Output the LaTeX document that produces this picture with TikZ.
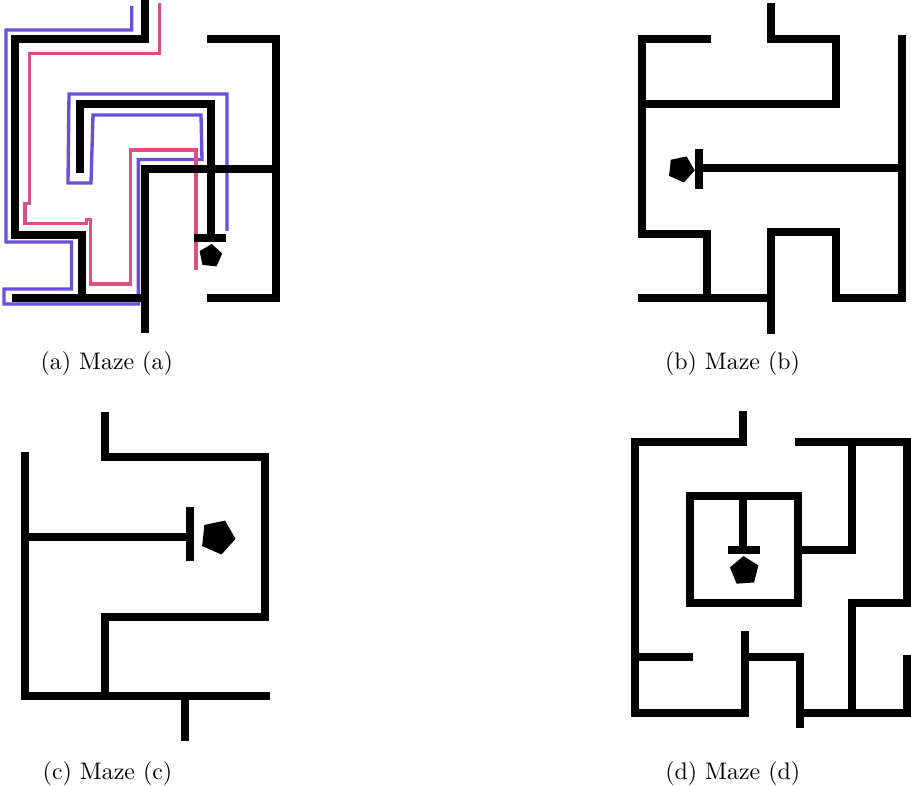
\documentclass[tikz,border=0pt]{standalone}
\usepackage{tikz}
\usetikzlibrary{shapes.geometric}
\definecolor{rblue}{rgb}{0.42, 0.31, 0.86}
\definecolor{rpink}{rgb}{0.87, 0.31, 0.50}
\tikzset{wall/.style = {line width=3.3pt, line join=miter},
         route/.style = {line width=1.4pt, line join=miter},
         goal/.style = {regular polygon, regular polygon sides=5, fill=black,
                        inner sep=0pt}}
\begin{document}
\begin{tikzpicture}[x=0.418pt, y=-0.418pt]
  \useasboundingbox (0, 0) rectangle (911, 785);
  % maze (a) with both routes
  \draw [route, rblue] (131.7, 6) -- (131.7, 30) -- (6, 30) -- (6, 242) -- (71.5, 242)
    -- (71.5, 289) -- (4, 289) -- (4, 304) -- (138.4, 304) -- (138.4, 159.5)
    -- (202, 159.5) -- (201, 115) -- (93, 115) -- (91, 183) -- (68, 183) -- (69, 94)
    -- (227, 94) -- (227, 231);
  \draw [route, rpink] (159.3, 3) -- (159.3, 53.3) -- (29.3, 53.3) -- (29.3, 203.3)
    -- (25, 203.3) -- (25, 223.3) -- (86.5, 223.3) -- (86.5, 219.5) -- (90.5, 219.5)
    -- (90.5, 284) -- (130.7, 284) -- (130.7, 150) -- (196, 150) -- (196, 270);
  \draw [wall] (145, 0) -- (145, 39) -- (15, 39) -- (15, 235) -- (82, 235) -- (82, 298);
  \draw [wall] (12, 298) -- (145, 298);
  \draw [wall] (145, 333) -- (145, 169) -- (276, 169);
  \draw [wall] (207, 39) -- (276, 39) -- (276, 298) -- (207, 298);
  \draw [wall] (80, 173) -- (80, 104) -- (211, 104) -- (211, 238);
  \draw [wall] (194, 238) -- (226, 238);
  \node [goal, minimum size=10pt, shape border rotate=-6] (goalA) at (210.5, 256) {};
  \node (capA) at (106.7, 363.7) {(a) Maze (a)};

  % maze (b)
  \draw [wall] (771, 3) -- (771, 39) -- (836, 39) -- (836, 104) -- (642, 104);
  \draw [wall] (711, 39) -- (642, 39) -- (642, 234) -- (707, 234) -- (707, 298);
  \draw [wall] (638, 298) -- (771, 298);
  \draw [wall] (771, 334) -- (771, 232) -- (836, 232) -- (836, 298) -- (902, 298) -- (902, 35);
  \draw [wall] (700, 168.3) -- (902, 168.3);
  \draw [wall] (698.7, 149) -- (698.7, 189);
  \node [goal, minimum size=11.5pt, shape border rotate=-96] (goalB) at (681, 169) {};
  \node (capB) at (732.5, 363.7) {(b) Maze (b)};

  % maze (c)
  \draw [wall] (25, 452) -- (25, 696) -- (270, 696);
  \draw [wall] (25, 537) -- (190, 537);
  \draw [wall] (190, 507) -- (190, 561);
  \draw [wall] (105, 412) -- (105, 457) -- (265, 457) -- (265, 617) -- (105, 617) -- (105, 696);
  \draw [wall] (185, 696) -- (185, 741);
  \node [goal, minimum size=15pt, shape border rotate=-96] (goalC) at (217.7, 537) {};
  \node (capC) at (107.5, 773.5) {(c) Maze (c)};

  % maze (d)
  \draw [wall] (743.3, 411) -- (743.3, 442) -- (635, 442) -- (635, 713) -- (745, 713) -- (745, 631);
  \draw [wall] (635, 657) -- (693, 657);
  \draw [wall] (745, 657) -- (800, 657) -- (800, 728);
  \draw [wall] (800, 713) -- (907, 713) -- (907, 655);
  \draw [wall] (795, 442) -- (907, 442) -- (907, 603) -- (852, 603) -- (852, 713);
  \draw [wall] (852, 442) -- (852, 550) -- (798, 550);
  \draw [wall] (690, 496) rectangle (798, 603);
  \draw [wall] (743.3, 496) -- (743.3, 550);
  \draw [wall] (728, 550) -- (760, 550);
  \node [goal, minimum size=12.5pt, shape border rotate=4] (goalD) at (744.5, 571) {};
  \node (capD) at (732.7, 773.5) {(d) Maze (d)};
\end{tikzpicture}
\end{document}
